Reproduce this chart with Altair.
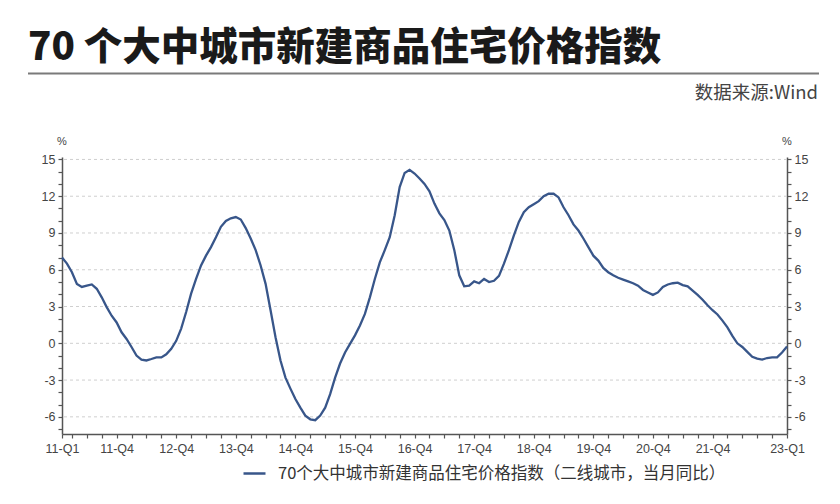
import json
import altair as alt
import pandas as pd

# ---- data (monthly, Jan 2011 .. Mar 2023) ----
values = [
    7.0, 6.5, 5.8, 4.85, 4.6, 4.7, 4.8, 4.45, 3.75, 2.95, 2.25, 1.7,
    0.9, 0.35, -0.3, -1.0, -1.33, -1.4, -1.28, -1.15, -1.15, -0.9, -0.45, 0.2,
    1.2, 2.55, 4.05, 5.25, 6.35, 7.15, 7.85, 8.65, 9.5, 9.98, 10.2, 10.3,
    10.1, 9.4, 8.55, 7.6, 6.35, 4.85, 2.7, 0.5, -1.4, -2.8, -3.7, -4.55,
    -5.25, -5.9, -6.2, -6.27, -5.9, -5.25, -4.15, -2.8, -1.65, -0.75, -0.05, 0.65,
    1.45, 2.4, 3.75, 5.25, 6.6, 7.6, 8.65, 10.45, 12.75, 13.9, 14.15, 13.85,
    13.45, 13.0, 12.4, 11.4, 10.6, 10.05, 9.2, 7.6, 5.55, 4.65, 4.7, 5.05,
    4.9, 5.25, 5.0, 5.1, 5.5, 6.5, 7.6, 8.8, 9.9, 10.7, 11.1, 11.35,
    11.6, 12.0, 12.2, 12.2, 11.9, 11.1, 10.45, 9.7, 9.2, 8.55, 7.85, 7.15,
    6.75, 6.15, 5.8, 5.55, 5.35, 5.2, 5.05, 4.9, 4.7, 4.35, 4.15, 3.95,
    4.15, 4.6, 4.8, 4.9, 4.95, 4.75, 4.65, 4.3, 3.95, 3.55, 3.1, 2.7,
    2.35, 1.85, 1.3, 0.6, 0.0, -0.3, -0.7, -1.1, -1.25, -1.33, -1.2, -1.15,
    -1.15, -0.75, -0.27,
]
months = list(range(len(values)))  # 0 = 2011-01

series_name = "70个大中城市新建商品住宅价格指数（二线城市，当月同比）"
title_text = "70 个大中城市新建商品住宅价格指数"
source_text = "数据来源:Wind"

x_label_pos = [0, 11, 23, 35, 47, 59, 71, 83, 95, 107, 119, 131, 146]
x_label_txt = ["11-Q1", "11-Q4", "12-Q4", "13-Q4", "14-Q4", "15-Q4", "16-Q4",
               "17-Q4", "18-Q4", "19-Q4", "20-Q4", "21-Q4", "23-Q1"]
x_tick_pos = [0] + list(range(2, 147, 3))   # quarter-end months
y_grid = [-6, -3, 0, 3, 6, 9, 12, 15]
y_ticks = list(range(-7, 16))
y_domain = [-7.4, 15.2]

LINE_COLOR = "#38568a"
AXIS_COLOR = "#555555"
LABEL_COLOR = "#444444"
LATIN = "Liberation Sans"
CJK = "Noto Sans CJK SC"

df = pd.DataFrame({"m": months, "v": values, "s": series_name})

x_label_expr = (
    f"indexof({json.dumps(x_label_pos)}, datum.value) >= 0 ? "
    f"{json.dumps(x_label_txt)}[indexof({json.dumps(x_label_pos)}, datum.value)] : ''"
)
y_label_expr = "datum.value % 3 === 0 ? '' + datum.value : ''"

y_scale = alt.Scale(domain=y_domain, nice=False, zero=False)


def y_axis(orient):
    return alt.Axis(
        orient=orient, values=y_ticks, labelExpr=y_label_expr, grid=False,
        title=None, tickSize=4, tickColor=AXIS_COLOR, tickWidth=1.2,
        domainColor=AXIS_COLOR, domainWidth=1.5, labelFont=LATIN,
        labelFontSize=12.5, labelColor=LABEL_COLOR, labelPadding=3,
        labelOverlap=False, labelFlush=False,
    )


x_enc = alt.X(
    "m:Q",
    scale=alt.Scale(domain=[0, 146], nice=False, zero=False),
    axis=alt.Axis(
        values=x_tick_pos, labelExpr=x_label_expr, labelOverlap=False,
        labelFlush=False, grid=False, title=None, tickSize=4,
        tickColor=AXIS_COLOR, tickWidth=1.2, domainColor=AXIS_COLOR,
        domainWidth=1.5, labelFont=LATIN, labelFontSize=12.5,
        labelColor=LABEL_COLOR, labelPadding=4,
    ),
)

grid = alt.Chart(pd.DataFrame({"g": y_grid})).mark_rule(
    color="#cfcfcf", strokeDash=[3, 3], strokeWidth=1
).encode(y=alt.Y("g:Q", scale=y_scale, axis=y_axis("right")))

line = alt.Chart(df).mark_line(strokeWidth=2.3).encode(
    x=x_enc,
    y=alt.Y("v:Q", scale=y_scale, axis=y_axis("left")),
    color=alt.Color(
        "s:N",
        scale=alt.Scale(range=[LINE_COLOR]),
        legend=alt.Legend(
            orient="none", legendX=180, legendY=304, title=None,
            symbolType="stroke", symbolSize=484, symbolStrokeWidth=2.5,
            labelFont=CJK, labelFontSize=16.5, labelColor="#333333",
            labelLimit=0, labelOffset=11, padding=0,
        ),
    ),
)


def text_layer(txt, x, y, size, align, baseline, font, weight="normal", color=LABEL_COLOR):
    return alt.Chart(pd.DataFrame({"t": [txt]})).mark_text(
        align=align, baseline=baseline, font=font, fontSize=size,
        fontWeight=weight, color=color,
    ).encode(text="t:N", x=alt.value(x), y=alt.value(y))


title = text_layer(title_text, -34, -97.5, 38.5, "left", "alphabetic", CJK, 900, "#1a1a1a")
source = text_layer(source_text, 756, -58, 18.5, "right", "alphabetic", CJK, "normal", "#444444")
pct_left = text_layer("%", 0, -15, 11, "center", "middle", LATIN)
pct_right = text_layer("%", 725, -15, 11, "center", "middle", LATIN)

title_rule = alt.Chart(pd.DataFrame({"r": [0]})).mark_rule(
    color="#7a7a7a", strokeWidth=2
).encode(x=alt.value(-34), x2=alt.value(757), y=alt.value(-83.5))

chart = (
    alt.layer(grid, line, title, source, pct_left, pct_right, title_rule)
    .resolve_scale(y="independent")
    .properties(
        width=725, height=277,
        padding={"left": 54, "top": 149, "right": 45, "bottom": 62},
        autosize=alt.AutoSizeParams(type="none"),
        background="white",
    )
    .configure_view(stroke=None)
)

chart.save("out.html", embed_options={"renderer": "svg", "actions": False})
